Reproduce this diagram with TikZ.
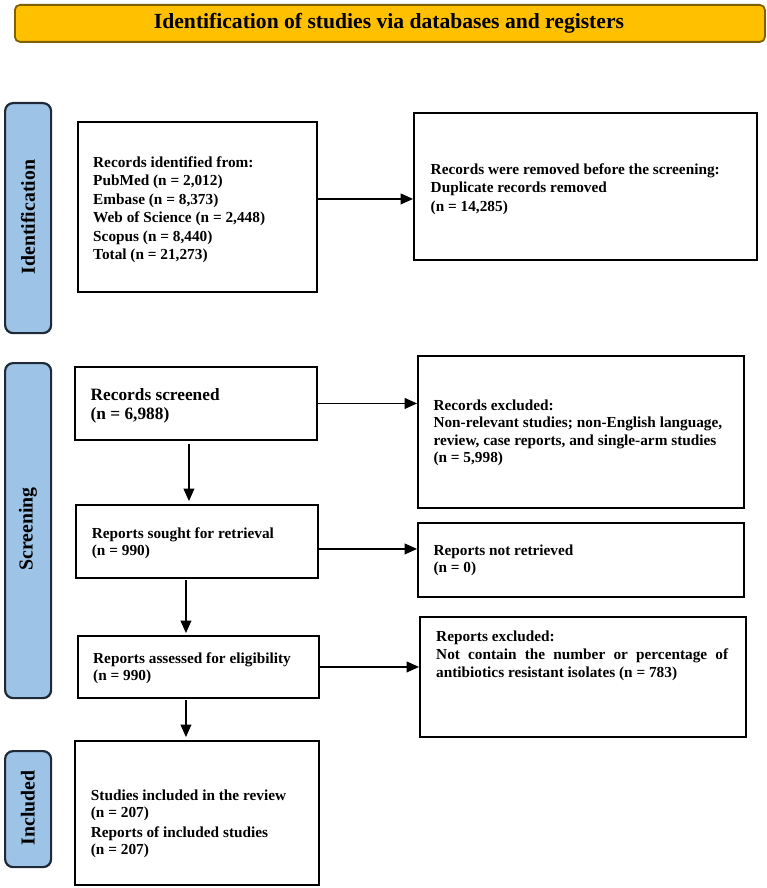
\documentclass[tikz,border=0pt]{standalone}
\usepackage{fontspec}
\setmainfont{Liberation Serif}
\usetikzlibrary{arrows.meta}
\definecolor{bannerfill}{HTML}{FFC000}
\definecolor{bannerdraw}{HTML}{7F6000}
\definecolor{sidefill}{HTML}{9DC3E6}
\definecolor{sidedraw}{HTML}{1F2A38}
\tikzset{
  box/.style={draw=black, line width=1.9pt, fill=white, inner sep=0pt, anchor=north west},
  sidebox/.style={draw=sidedraw, fill=sidefill, line width=2.2pt, rounded corners=8pt, inner sep=0pt, anchor=north west},
  sidetxt/.style={font=\fontsize{19.8}{22}\selectfont\bfseries, rotate=90, inner sep=0pt},
  txt/.style={font=\fontsize{15.3}{18.5}\selectfont\bfseries, align=left, inner sep=0pt, anchor=base west},
  bigtxt/.style={font=\fontsize{17.3}{19}\selectfont\bfseries, align=left, inner sep=0pt, anchor=base west},
  arr/.style={line width=1.1pt, -{Triangle[length=12.5pt,width=11pt]}},
}
\begin{document}
\begin{tikzpicture}[x=1pt,y=-1pt]
\useasboundingbox (0,0) rectangle (767,888);
% banner
\node[draw=bannerdraw, fill=bannerfill, line width=1.8pt, rounded corners=5pt, minimum width=750, minimum height=37, inner sep=0pt, anchor=north west] (banner) at (14,4) {};
\node[font=\fontsize{21.6}{24}\selectfont\bfseries, inner sep=0pt] (title) at (389,23) {Identification of studies via databases and registers};
% side labels
\node[sidebox, minimum width=46, minimum height=230] (sideI) at (4,102) {};
\node[sidetxt] (sideIt) at (28,217) {Identification};
\node[sidebox, minimum width=46, minimum height=335] (sideS) at (4,362) {};
\node[sidetxt] (sideSt) at (28,529) {Screening};
\node[sidebox, minimum width=46, minimum height=116] (sideN) at (4,750) {};
\node[sidetxt] (sideNt) at (28,808) {Included};
% boxes (text nodes are placed by the baseline of their last line)
\node[box, minimum width=239, minimum height=170] (ident) at (77,121) {};
\node[txt] (identT) at (93,259.5) {Records identified from:\\PubMed (n = 2,012)\\Embase (n = 8,373)\\Web of Science (n = 2,448)\\Scopus (n = 8,440)\\Total (n = 21,273)};
\node[box, minimum width=343, minimum height=147] (removed) at (413,112) {};
\node[txt] (removedT) at (430.5,211) {Records were removed before the screening:\\Duplicate records removed\\(n = 14,285)};
\node[box, minimum width=242, minimum height=73] (screened) at (74,366) {};
\node[bigtxt] (screenedT) at (90.5,419) {Records screened\\(n = 6,988)};
\node[box, minimum width=326, minimum height=152] (excluded) at (417,355) {};
\node[txt, font=\fontsize{15.3}{17.6}\selectfont\bfseries] (excludedT) at (433.3,462.8) {Records excluded:\\Non-relevant studies; non-English language,\\review, case reports, and single-arm studies\\(n = 5,998)};
\node[box, minimum width=242, minimum height=73] (sought) at (75,504) {};
\node[txt, font=\fontsize{15.3}{17.4}\selectfont\bfseries] (soughtT) at (91.7,555.7) {Reports sought for retrieval\\(n = 990)};
\node[box, minimum width=326, minimum height=74] (notret) at (417,522) {};
\node[txt, font=\fontsize{15.3}{17}\selectfont\bfseries] (notretT) at (433.3,572.7) {Reports not retrieved\\(n = 0)};
\node[box, minimum width=241, minimum height=62] (assessed) at (77,635) {};
\node[txt, font=\fontsize{15.3}{17}\selectfont\bfseries] (assessedT) at (93,680) {Reports assessed for eligibility\\(n = 990)};
\node[box, minimum width=326, minimum height=120] (repexcl) at (419,616) {};
\node[txt, font=\fontsize{15.3}{18}\selectfont\bfseries] (repexclT) at (436,677) {Reports excluded:\\\makebox[292pt][s]{Not contain the number or percentage of}\\antibiotics resistant isolates (n = 783)};
\node[box, minimum width=244, minimum height=144] (included) at (74,740) {};
\node[txt, font=\fontsize{15.3}{17.5}\selectfont\bfseries] (includedT) at (90.7,854.5) {Studies included in the review\\(n = 207)\\[2pt]Reports of included studies\\(n = 207)};
% connectors
\draw[arr] ([yshift=8pt]ident.east) -- ([yshift=8pt]ident.east -| removed.west);
\draw[arr] (screened.east) -- (screened.east -| excluded.west);
\draw[arr] ([yshift=-7.5pt]sought.east) -- ([yshift=-7.5pt]sought.east -| notret.west);
\draw[arr] (assessed.east) -- (assessed.east -| repexcl.west);
\draw[arr, shorten <=3pt, shorten >=3pt] ([xshift=-7pt]screened.south) -- ([xshift=-7pt]screened.south |- sought.north);
\draw[arr, shorten <=1.5pt, shorten >=2pt] ([xshift=-11pt]sought.south) -- ([xshift=-11pt]sought.south |- assessed.north);
\draw[arr, shorten <=1.5pt, shorten >=3pt] ([xshift=-12.5pt]assessed.south) -- ([xshift=-12.5pt]assessed.south |- included.north);
\end{tikzpicture}
\end{document}
